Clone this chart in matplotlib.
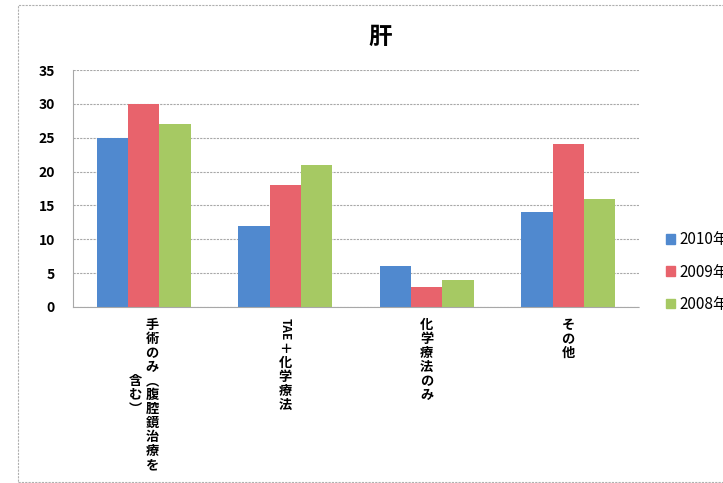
import matplotlib
matplotlib.use("Agg")
import matplotlib.pyplot as plt
import numpy as np
from matplotlib.patches import Patch, Rectangle
import matplotlib.transforms as mtransforms

plt.rcParams['font.family'] = ['Noto Sans CJK JP', 'DejaVu Sans']

# データ
title = "肝"
categories = ["手術のみ（腹腔鏡治療を含む）", "TAE＋化学療法", "化学療法のみ", "その他"]
years = ["2010年", "2009年", "2008年"]
v2010 = [25, 12, 6, 14]
v2009 = [30, 18, 3, 24]
v2008 = [27, 21, 4, 16]
colors = ["#5089cf", "#e8636c", "#a6c963"]

fig = plt.figure(figsize=(7.23, 4.83), dpi=100)
ax = fig.add_axes([73 / 723, 1 - 307 / 483, 566 / 723, 237 / 483])

x = np.arange(len(categories))
w = 1 / 4.5
for k, (vals, c) in enumerate(zip([v2010, v2009, v2008], colors)):
    ax.bar(x + (k - 1) * w, vals, width=w, color=c, zorder=2)

ax.set_xlim(-0.5, len(categories) - 0.5)
ax.set_ylim(0, 35)
ax.set_yticks(range(0, 36, 5))
ax.tick_params(axis='y', length=0, labelsize=10, pad=13)
for t in ax.get_yticklabels():
    t.set_fontweight('bold')
ax.set_xticks([])
ax.grid(axis='y', color='#a8a8a8', linewidth=0.8, linestyle=(0, (2, 1)), zorder=0)
for s in ['top', 'right']:
    ax.spines[s].set_visible(False)
ax.spines['left'].set_color('#a8a8a8')
ax.spines['left'].set_linestyle((0, (2, 1)))
ax.spines['bottom'].set_color('#a8a8a8')
ax.spines['bottom'].set_linestyle((0, (2, 1)))

# 縦書きラベル
vert = {"（": "︵", "）": "︶"}
per_col = 11
fs = 9.5
step = fs * 1.05
trans = mtransforms.blended_transform_factory(ax.transData, ax.transAxes)
for i, lab in enumerate(categories):
    cols = [lab[j:j + per_col] for j in range(0, len(lab), per_col)]
    n = len(cols)
    longest = max(len(c) for c in cols)
    for ci, col in enumerate(cols):
        off = (n - 1) * 6 - ci * 12
        y0 = -8.0 - (longest - len(col)) * step / 2
        # 英字は横倒し、それ以外は一文字ずつ縦に
        k = 0
        while k < len(col):
            if col[k].isascii():
                run = ""
                while k < len(col) and col[k].isascii():
                    run += col[k]
                    k += 1
                ax.annotate(run, xy=(i, 0), xycoords=trans,
                            xytext=(off, y0), textcoords='offset points',
                            ha='center', va='top', rotation=-90,
                            fontsize=fs - 1, fontweight='bold')
                y0 -= len(run) * 0.62 * (fs - 1) + 1.5
            else:
                run = []
                while k < len(col) and not col[k].isascii():
                    run.append(vert.get(col[k], col[k]))
                    k += 1
                ax.annotate("\n".join(run), xy=(i, 0), xycoords=trans,
                            xytext=(off, y0), textcoords='offset points',
                            ha='center', va='top', fontsize=fs,
                            fontweight='bold', linespacing=1.0)
                y0 -= len(run) * step

fig.text(380 / 723, 1 - 37 / 483, title, ha='center', va='center',
         fontsize=17, fontweight='bold')

handles = [Patch(color=c) for c in colors]
fig.legend(handles, years, loc='center left', bbox_to_anchor=(652 / 723, 1 - 272 / 483),
           frameon=False, fontsize=11, handlelength=0.6, handleheight=0.6,
           handletextpad=0.3, labelspacing=1.0)

fig.patches.append(Rectangle((18 / 723, 1 / 483), 1.0, 1 - 6 / 483,
                             transform=fig.transFigure, fill=False,
                             edgecolor='#b0b0b0', linewidth=0.8,
                             linestyle=(0, (2, 1))))

fig.savefig("out.png", dpi=100)
